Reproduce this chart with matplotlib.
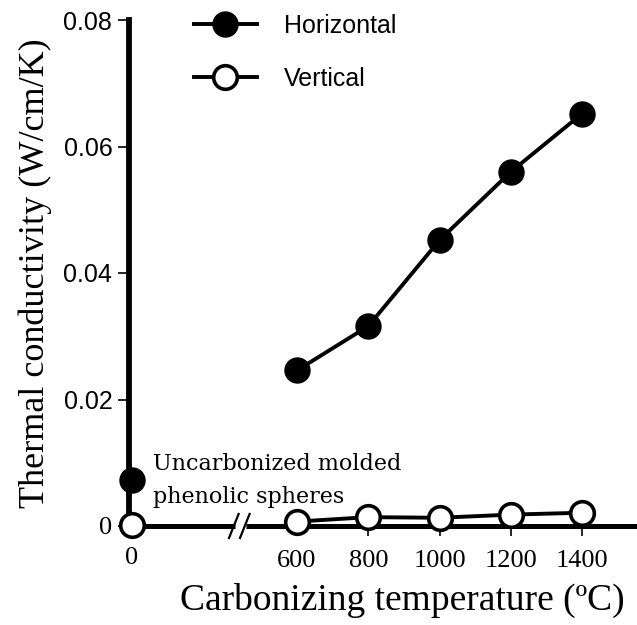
import matplotlib
matplotlib.use("Agg")
import matplotlib.pyplot as plt

# ---- data ----
uncarb_temp = [0]
uncarb_horizontal = [0.0072]
uncarb_vertical = [0.0002]

temps = [600, 800, 1000, 1200, 1400]
horizontal = [0.0246, 0.0316, 0.0452, 0.0560, 0.0652]
vertical = [0.0007, 0.0014, 0.0013, 0.0018, 0.0021]

x_ticks = [600, 800, 1000, 1200, 1400]
x_ticklabels = ["600", "800", "1000", "1200", "1400"]
y_ticks = [0, 0.02, 0.04, 0.06, 0.08]
y_ticklabels = ["0", "0.02", "0.04", "0.06", "0.08"]

W, H = 637, 625
fig = plt.figure(figsize=(W / 100, H / 100), dpi=100)

def px_rect(x0, x1, ytop, ybot):
    return [x0 / W, 1 - ybot / H, (x1 - x0) / W, (ybot - ytop) / H]

axl = fig.add_axes(px_rect(129, 235, 20, 526))
axr = fig.add_axes(px_rect(246, 637, 20, 526), sharey=axl)

for ax in (axl, axr):
    ax.set_facecolor("none")
    ax.spines["top"].set_visible(False)
    ax.spines["right"].set_visible(False)
    ax.spines["bottom"].set_linewidth(3.6)
    ax.spines["left"].set_linewidth(4.2)
    ax.spines["bottom"].set_capstyle("butt")
axr.spines["left"].set_visible(False)

axl.set_ylim(0, 0.08)
axl.set_xlim(-8.4, 289)
axr.set_xlim(456.8, 1554)

serif = "Liberation Serif"
sans = "Liberation Sans"

# y ticks
axl.set_yticks(y_ticks)
axl.set_yticklabels(y_ticklabels, fontsize=18, family=sans)
axl.get_yticklabels()[0].set_family(serif)
axl.get_yticklabels()[0].set_fontsize(19)
axl.tick_params(axis="y", direction="out", length=8, width=1.2, pad=4)
axr.tick_params(axis="y", left=False, labelleft=False)

# x ticks
axl.set_xticks(uncarb_temp)
axl.set_xticklabels(["0"], fontsize=19, family=serif)
axl.tick_params(axis="x", length=0, pad=15)
axr.set_xticks(x_ticks)
axr.set_xticklabels(x_ticklabels, fontsize=19, family=serif)
axr.tick_params(axis="x", direction="out", length=7, width=1.2, pad=10)

mk = 18
lw = 2.8
# uncarbonized points
axl.plot(uncarb_temp, uncarb_horizontal, "o", color="black", ms=mk, clip_on=False, zorder=5)
axl.plot(uncarb_temp, uncarb_vertical, "o", mfc="white", mec="black", mew=2.6, ms=mk - 1,
         clip_on=False, zorder=5)

# carbonized series
h_line, = axr.plot(temps, horizontal, "-o", color="black", lw=lw, ms=mk, clip_on=False,
                   zorder=5, label="Horizontal")
v_line, = axr.plot(temps, vertical, "-o", color="black", lw=lw, mfc="white", mec="black",
                   mew=2.6, ms=mk - 1, clip_on=False, zorder=5, label="Vertical")

leg = axr.legend(handles=[h_line, v_line], loc="upper left",
                 bbox_to_anchor=(194 / W, 1 - 14 / H), bbox_transform=fig.transFigure,
                 frameon=False, borderpad=0, borderaxespad=0, handlelength=2.5,
                 handletextpad=1.1, labelspacing=1.15,
                 prop={"family": sans, "size": 18})

# axis break marks
for ax, xe, wpx in ((axl, 1.0, 106), (axr, 0.0, 391)):
    dx = 6 / wpx
    dy = 12 / 506
    ax.plot([xe - dx, xe + dx * 0.6], [-dy, dy], color="black", lw=1.6,
            transform=ax.transAxes, clip_on=False)

# annotation
axl.text(0.225, 0.090, "Uncarbonized molded\nphenolic spheres", transform=axl.transAxes,
         ha="left", va="center", fontsize=16, family="DejaVu Serif", linespacing=1.6)

# labels
axl.set_ylabel("Thermal conductivity (W/cm/K)", fontsize=26, family=serif, labelpad=8)
axr.set_xlabel("Carbonizing temperature (\u00baC)", fontsize=27, family=serif)
axr.xaxis.set_label_coords(0.40, -0.112)

fig.savefig("out.png", dpi=100)
